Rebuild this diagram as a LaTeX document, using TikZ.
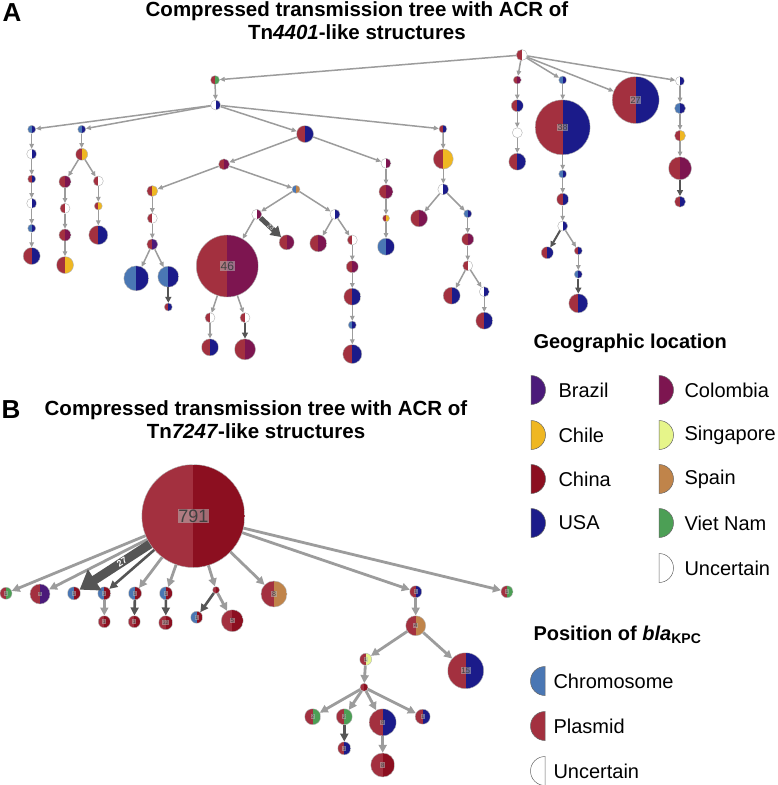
\documentclass[tikz,border=0pt]{standalone}
\usepackage{fontspec}
\setmainfont{Liberation Sans}
\usetikzlibrary{arrows.meta}
\definecolor{plas}{HTML}{A3303F}
\definecolor{chrom}{HTML}{4A77B4}
\definecolor{unc}{HTML}{FFFFFF}
\definecolor{china}{HTML}{8C0F20}
\definecolor{usa}{HTML}{1B1B8A}
\definecolor{colombia}{HTML}{7D1550}
\definecolor{chile}{HTML}{EFB722}
\definecolor{brazil}{HTML}{4B1A7A}
\definecolor{singapore}{HTML}{E6F58A}
\definecolor{spain}{HTML}{C0844A}
\definecolor{vietnam}{HTML}{4C9F55}
\definecolor{edgegray}{HTML}{9C9C9C}
\definecolor{edgedark}{HTML}{555555}

\begin{document}
\begin{tikzpicture}[x=1pt,y=-1pt,
  pie/.style 2 args={circle,inner sep=0pt,draw=gray!60,line width=0.4pt,
    path picture={\fill[#1] (path picture bounding box.south west) rectangle (path picture bounding box.north);
      \fill[#2] (path picture bounding box.south) rectangle (path picture bounding box.north east);}},
  num/.style={fill=gray!55,fill opacity=0.55,text opacity=1,text=black!75,inner sep=0.6pt,font=\fontsize{#1}{#1}\selectfont},
  ea/.style={draw=edgegray,line width=1.5pt,-{Triangle[length=5pt,width=4.5pt]}},
  eadark/.style={draw=edgedark,line width=2pt,-{Triangle[length=6pt,width=6pt]}},
  eb/.style={draw=edgegray,line width=2.8pt,-{Triangle[length=8pt,width=8pt]}},
  ebdark/.style={draw=edgedark,line width=2.6pt,-{Triangle[length=8pt,width=8pt]}},
  ttl/.style={font=\fontsize{20.5}{23}\selectfont\bfseries,align=center},
  panel/.style={font=\fontsize{26}{26}\selectfont\bfseries},
  lgd/.style={font=\fontsize{20}{24}\selectfont,anchor=west},
  lgdhead/.style={font=\fontsize{20}{24}\selectfont\bfseries,anchor=west},
  icon/.style={draw=black!60,line width=0.5pt}]
\useasboundingbox[fill=white] (0,0) rectangle (777,785);

\node[panel] (pA) at (12,13) {A};
\node[ttl] (titleA) at (357,21) {Compressed transmission tree with ACR of\\Tn\textit{4401}-like structures};
\node[panel] (pB) at (11,410) {B};
\node[ttl] (titleB) at (256,419.5) {Compressed transmission tree with ACR of\\Tn\textit{7247}-like structures};

\node[pie={plas}{unc},minimum size=11] (r) at (521.7,55) {};
\node[pie={plas}{vietnam},minimum size=9] (a1) at (215,80) {};
\node[pie={unc}{usa},minimum size=10] (a2) at (215.7,105) {};
\node[pie={chrom}{usa},minimum size=8] (b1) at (31.7,129.3) {};
\node[pie={unc}{usa},minimum size=10] (b1a) at (31.7,154) {};
\node[pie={plas}{usa},minimum size=8] (b1b) at (31.7,179) {};
\node[pie={unc}{usa},minimum size=10] (b1c) at (31.7,203.3) {};
\node[pie={chrom}{usa},minimum size=8] (b1d) at (31.7,228.3) {};
\node[pie={plas}{usa},minimum size=17] (b1e) at (31.7,256) {};
\node[pie={chrom}{usa},minimum size=8] (b2) at (81.7,129.3) {};
\node[pie={plas}{chile},minimum size=12] (b2a) at (81.7,154.3) {};
\node[pie={plas}{colombia},minimum size=12] (b2b) at (65,181.7) {};
\node[pie={plas}{unc},minimum size=10] (b2c) at (65,208.3) {};
\node[pie={plas}{colombia},minimum size=12] (b2d) at (65,235) {};
\node[pie={plas}{chile},minimum size=17] (b2e) at (65,265) {};
\node[pie={plas}{unc},minimum size=10] (b2f) at (98.3,181) {};
\node[pie={plas}{chile},minimum size=8] (b2g) at (98.3,206) {};
\node[pie={plas}{usa},minimum size=19] (b2h) at (98.3,235) {};
\node[pie={plas}{usa},minimum size=17] (c) at (305,134) {};
\node[pie={plas}{colombia},minimum size=11] (c1) at (224,164.3) {};
\node[pie={plas}{chile},minimum size=11] (c1a) at (152.3,191) {};
\node[pie={plas}{unc},minimum size=10] (c1b) at (152.3,218.3) {};
\node[pie={plas}{brazil},minimum size=11] (c1c) at (152.3,244.3) {};
\node[pie={chrom}{usa},minimum size=25] (c1d) at (136.3,278.3) {};
\node[pie={chrom}{usa},minimum size=21] (c1e) at (168.3,276.7) {};
\node[pie={plas}{usa},minimum size=8] (c1f) at (168.3,307) {};
\node[pie={chrom}{spain},minimum size=8] (c2) at (296,189.3) {};
\node[pie={unc}{colombia},minimum size=10] (c2a) at (256.7,214.3) {};
\node[pie={plas}{colombia},minimum size=62,label={[num=12]center:46}] (c2b) at (227.3,266) {};
\node[pie={plas}{colombia},minimum size=15] (c2c) at (286.7,242.3) {};
\node[pie={plas}{unc},minimum size=10] (c2d) at (210,317.7) {};
\node[pie={plas}{usa},minimum size=17] (c2e) at (210,347.3) {};
\node[pie={plas}{unc},minimum size=10] (c2f) at (245,317.7) {};
\node[pie={plas}{colombia},minimum size=21] (c2g) at (245,349.3) {};
\node[pie={unc}{usa},minimum size=10] (c3) at (335,214.3) {};
\node[pie={plas}{colombia},minimum size=17] (c3a) at (318.3,243.3) {};
\node[pie={plas}{unc},minimum size=10] (c3b) at (352.3,240) {};
\node[pie={plas}{colombia},minimum size=12] (c3c) at (352.3,266.7) {};
\node[pie={plas}{usa},minimum size=17] (c3d) at (352.3,296.7) {};
\node[pie={chrom}{usa},minimum size=8] (c3e) at (352.3,325) {};
\node[pie={plas}{usa},minimum size=19] (c3f) at (352.3,354) {};
\node[pie={unc}{colombia},minimum size=10] (c4) at (386,163.3) {};
\node[pie={plas}{colombia},minimum size=14] (c4a) at (386,191.7) {};
\node[pie={plas}{chile},minimum size=7] (c4b) at (386,218.3) {};
\node[pie={chrom}{usa},minimum size=17] (c4c) at (386,246.7) {};
\node[pie={plas}{usa},minimum size=8] (d) at (443,129) {};
\node[pie={plas}{chile},minimum size=20] (d1) at (443.3,159) {};
\node[pie={unc}{usa},minimum size=11] (d2) at (443.3,189.3) {};
\node[pie={plas}{colombia},minimum size=17] (d3) at (419,218.3) {};
\node[pie={chrom}{usa},minimum size=8] (d4) at (467.7,213.7) {};
\node[pie={plas}{colombia},minimum size=12] (d5) at (467.7,239.3) {};
\node[pie={plas}{unc},minimum size=10] (d6) at (467.7,265.7) {};
\node[pie={plas}{usa},minimum size=17] (d7) at (451.7,295.7) {};
\node[pie={unc}{usa},minimum size=10] (d8) at (484.3,291.7) {};
\node[pie={plas}{usa},minimum size=17] (d9) at (484.3,320.7) {};
\node[pie={plas}{colombia},minimum size=8] (e1) at (517.3,80) {};
\node[pie={plas}{usa},minimum size=12] (e2) at (517.3,105.7) {};
\node[pie={unc}{unc},minimum size=10] (e3) at (517.3,132.7) {};
\node[pie={plas}{usa},minimum size=17] (e4) at (517.3,161.7) {};
\node[pie={chrom}{usa},minimum size=8] (f1) at (562.7,80) {};
\node[pie={plas}{usa},minimum size=55,label={[num=9]center:38}] (f2) at (562.7,127.3) {};
\node[pie={chrom}{usa},minimum size=8] (f3) at (562.7,174) {};
\node[pie={plas}{usa},minimum size=12] (f4) at (562.7,199.3) {};
\node[pie={unc}{usa},minimum size=10] (f5) at (562.7,226) {};
\node[pie={plas}{usa},minimum size=12] (f6) at (547.3,252.7) {};
\node[pie={plas}{usa},minimum size=8] (f7) at (578.3,250.7) {};
\node[pie={chrom}{usa},minimum size=8] (f8) at (578.3,274.3) {};
\node[pie={plas}{usa},minimum size=19] (f9) at (578.3,303.3) {};
\node[pie={plas}{usa},minimum size=47,label={[num=9]center:27}] (g) at (635.7,100) {};
\node[pie={unc}{usa},minimum size=9] (h1) at (680,81) {};
\node[pie={chrom}{usa},minimum size=11] (h2) at (680,108.3) {};
\node[pie={plas}{chile},minimum size=11] (h3) at (680,135.7) {};
\node[pie={plas}{colombia},minimum size=23] (h4) at (680,168.3) {};
\node[pie={plas}{usa},minimum size=11] (h5) at (680,201.7) {};

\draw[ea] (r) -- (a1);
\draw[ea] (a1) -- (a2);
\draw[ea] (a2) -- (b1);
\draw[ea] (a2) -- (b2);
\draw[ea] (a2) -- (c);
\draw[ea] (a2) -- (d);
\draw[ea] (r) -- (e1);
\draw[ea] (r) -- (f1);
\draw[ea] (r) -- (g);
\draw[ea] (r) -- (h1);
\draw[ea] (b1) -- (b1a);
\draw[ea] (b1a) -- (b1b);
\draw[ea] (b1b) -- (b1c);
\draw[ea] (b1c) -- (b1d);
\draw[ea] (b1d) -- (b1e);
\draw[ea] (b2) -- (b2a);
\draw[ea] (b2a) -- (b2b);
\draw[ea] (b2a) -- (b2f);
\draw[ea] (b2b) -- (b2c);
\draw[ea] (b2c) -- (b2d);
\draw[ea] (b2d) -- (b2e);
\draw[ea] (b2f) -- (b2g);
\draw[ea] (b2g) -- (b2h);
\draw[ea] (c) -- (c1);
\draw[ea] (c) -- (c4);
\draw[ea] (c1) -- (c1a);
\draw[ea] (c1) -- (c2);
\draw[ea] (c1a) -- (c1b);
\draw[ea] (c1b) -- (c1c);
\draw[ea] (c1c) -- (c1d);
\draw[ea] (c1c) -- (c1e);
\draw[eadark] (c1e) -- (c1f);
\draw[ea] (c2) -- (c2a);
\draw[ea] (c2) -- (c3);
\draw[ea] (c2a) -- (c2b);
\draw[eadark,line width=5pt,-{Triangle[length=10pt,width=12pt]}] (c2a) -- node[sloped,text=white,inner sep=0pt,font=\fontsize{6}{6}\selectfont] {23} (c2c);
\draw[ea] (c2b) -- (c2d);
\draw[ea] (c2b) -- (c2f);
\draw[ea] (c2d) -- (c2e);
\draw[eadark] (c2f) -- (c2g);
\draw[ea] (c3) -- (c3a);
\draw[ea] (c3) -- (c3b);
\draw[ea] (c3b) -- (c3c);
\draw[ea] (c3c) -- (c3d);
\draw[ea] (c3d) -- (c3e);
\draw[ea] (c3e) -- (c3f);
\draw[ea] (c4) -- (c4a);
\draw[ea] (c4a) -- (c4b);
\draw[ea] (c4b) -- (c4c);
\draw[ea] (d) -- (d1);
\draw[ea] (d1) -- (d2);
\draw[ea] (d2) -- (d3);
\draw[ea] (d2) -- (d4);
\draw[ea] (d4) -- (d5);
\draw[ea] (d5) -- (d6);
\draw[ea] (d6) -- (d7);
\draw[ea] (d6) -- (d8);
\draw[ea] (d8) -- (d9);
\draw[ea] (e1) -- (e2);
\draw[ea] (e2) -- (e3);
\draw[ea] (e3) -- (e4);
\draw[ea] (f1) -- (f2);
\draw[ea] (f2) -- (f3);
\draw[ea] (f3) -- (f4);
\draw[ea] (f4) -- (f5);
\draw[eadark] (f5) -- (f6);
\draw[ea] (f5) -- (f7);
\draw[ea] (f7) -- (f8);
\draw[eadark] (f8) -- (f9);
\draw[ea] (h1) -- (h2);
\draw[ea] (h2) -- (h3);
\draw[ea] (h3) -- (h4);
\draw[eadark] (h4) -- (h5);

\node[pie={plas}{china},minimum size=103,label={[num=18]center:791}] (rt) at (193.3,516) {};
\node[pie={plas}{vietnam},minimum size=12,label={[num=5]center:1}] (k1) at (6,593.3) {};
\node[pie={plas}{brazil},minimum size=20,label={[num=5]center:4}] (k2) at (40,594) {};
\node[pie={chrom}{china},minimum size=13,label={[num=5]center:1}] (k3) at (74,593.3) {};
\node[pie={chrom}{china},minimum size=13,label={[num=5]center:1}] (k4) at (104.3,593.3) {};
\node[pie={chrom}{china},minimum size=13,label={[num=5]center:1}] (k5) at (135,593.3) {};
\node[pie={chrom}{china},minimum size=13,label={[num=5]center:1}] (k6) at (166,593.3) {};
\node[pie={plas}{china},minimum size=7] (k7) at (216,590) {};
\node[pie={plas}{spain},minimum size=26,label={[num=7]center:8}] (k8) at (274,594) {};
\node[pie={plas}{china},minimum size=12,label={[num=5]center:1}] (k4a) at (104.3,621.7) {};
\node[pie={plas}{china},minimum size=12,label={[num=5]center:1}] (k5a) at (134.3,621.7) {};
\node[pie={plas}{china},minimum size=14,label={[num=5]center:32}] (k6a) at (165.7,622.7) {};
\node[pie={chrom}{china},minimum size=12,label={[num=5]center:1}] (k7a) at (196.7,617.3) {};
\node[pie={plas}{china},minimum size=22,label={[num=6]center:5}] (k7b) at (232.3,620.7) {};
\node[pie={plas}{usa},minimum size=12,label={[num=5]center:1}] (p1) at (415.7,591.7) {};
\node[pie={plas}{vietnam},minimum size=12,label={[num=5]center:1}] (p2) at (507,591.7) {};
\node[pie={plas}{spain},minimum size=20,label={[num=6]center:4}] (p3) at (415.7,625.7) {};
\node[pie={plas}{singapore},minimum size=12,label={[num=5]center:1}] (p4) at (365.7,659.3) {};
\node[pie={plas}{usa},minimum size=36,label={[num=8]center:15}] (p5) at (465.7,670.7) {};
\node[pie={plas}{china},minimum size=8] (p6) at (364,687.3) {};
\node[pie={plas}{vietnam},minimum size=16,label={[num=5]center:2}] (p7) at (312.7,716.7) {};
\node[pie={plas}{vietnam},minimum size=16,label={[num=5]center:2}] (p8) at (344.3,716.7) {};
\node[pie={plas}{usa},minimum size=27,label={[num=6]center:8}] (p9) at (382.7,722.3) {};
\node[pie={plas}{usa},minimum size=15,label={[num=5]center:1}] (p10) at (422.7,716.7) {};
\node[pie={plas}{usa},minimum size=13,label={[num=5]center:1}] (p11) at (344.3,748.3) {};
\node[pie={plas}{china},minimum size=24,label={[num=6]center:8}] (p12) at (382.7,765) {};

\draw[eb] (rt) -- (k1);
\draw[eb] (rt) -- (k2);
\draw[draw=edgedark,line width=9pt,-{Triangle[length=18pt,width=24pt]}] (rt) -- node[sloped,text=white,inner sep=0pt,pos=0.4,font=\fontsize{9}{9}\selectfont\bfseries] {27} (k3);
\draw[ebdark] (rt) -- (k4);
\draw[eb] (rt) -- (k5);
\draw[eb] (rt) -- (k6);
\draw[eb] (rt) -- (k7);
\draw[eb] (rt) -- (k8);
\draw[eb] (rt) -- (p1);
\draw[eb] (rt) -- (p2);
\draw[eb] (k4) -- (k4a);
\draw[ebdark] (k5) -- (k5a);
\draw[ebdark] (k6) -- (k6a);
\draw[ebdark] (k7) -- (k7a);
\draw[eb] (k7) -- (k7b);
\draw[eb] (p1) -- (p3);
\draw[eb] (p3) -- (p4);
\draw[eb] (p3) -- (p5);
\draw[eb] (p4) -- (p6);
\draw[eb] (p6) -- (p7);
\draw[eb] (p6) -- (p8);
\draw[eb] (p6) -- (p9);
\draw[eb] (p6) -- (p10);
\draw[ebdark] (p8) -- (p11);
\draw[eb] (p9) -- (p12);

\node[lgdhead] (geo) at (530,343) {Geographic location};
\draw[icon,fill=brazil] (531,375.5) arc[start angle=90,end angle=-90,radius=14.5pt] -- cycle;
\node[lgd] (lbrazil) at (555,390) {Brazil};
\draw[icon,fill=chile] (531,420.5) arc[start angle=90,end angle=-90,radius=14.5pt] -- cycle;
\node[lgd] (lchile) at (555,435) {Chile};
\draw[icon,fill=china] (531,464.5) arc[start angle=90,end angle=-90,radius=14.5pt] -- cycle;
\node[lgd] (lchina) at (555,479) {China};
\draw[icon,fill=usa] (531,508.5) arc[start angle=90,end angle=-90,radius=14.5pt] -- cycle;
\node[lgd] (lusa) at (555,523) {USA};
\draw[icon,fill=colombia] (659,375.5) arc[start angle=90,end angle=-90,radius=14.5pt] -- cycle;
\node[lgd] (lcolombia) at (681,390) {Colombia};
\draw[icon,fill=singapore] (659,420.5) arc[start angle=90,end angle=-90,radius=14.5pt] -- cycle;
\node[lgd] (lsingapore) at (681,435) {Singapore};
\draw[icon,fill=spain] (659,464.5) arc[start angle=90,end angle=-90,radius=14.5pt] -- cycle;
\node[lgd] (lspain) at (681,479) {Spain};
\draw[icon,fill=vietnam] (659,508.5) arc[start angle=90,end angle=-90,radius=14.5pt] -- cycle;
\node[lgd] (lvietnam) at (681,523) {Viet Nam};
\draw[icon,fill=unc] (659,553.5) arc[start angle=90,end angle=-90,radius=14.5pt] -- cycle;
\node[lgd] (lunc) at (681,568) {Uncertain};

\node[lgdhead] (pos) at (530,635) {Position of \textit{bla}\textsubscript{KPC}};
\draw[icon,fill=chrom] (545,666.5) arc[start angle=90,end angle=270,radius=14.5pt] -- cycle;
\node[lgd] (lchrom) at (550,681) {Chromosome};
\draw[icon,fill=plas] (545,711.5) arc[start angle=90,end angle=270,radius=14.5pt] -- cycle;
\node[lgd] (lplas) at (550,726) {Plasmid};
\draw[icon,fill=unc] (545,756.5) arc[start angle=90,end angle=270,radius=14.5pt] -- cycle;
\node[lgd] (lunc2) at (550,771) {Uncertain};
\end{tikzpicture}
\end{document}
